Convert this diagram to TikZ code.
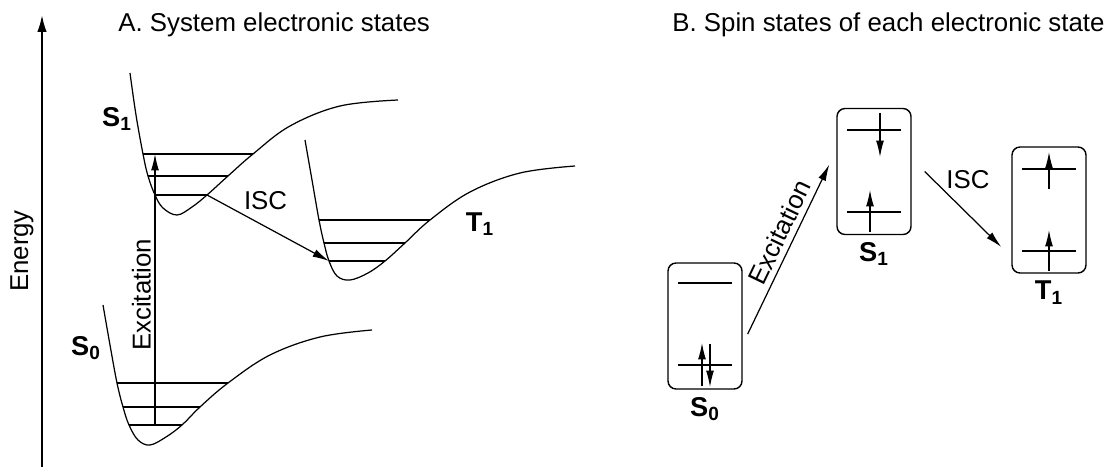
\documentclass[tikz,border=0pt]{standalone}
\usepackage{fontspec}
\setmainfont{Liberation Sans}
\usetikzlibrary{positioning,calc,arrows.meta}

\begin{document}
\begin{tikzpicture}[
    x=0.02cm, y=-0.02cm,
    font=\fontsize{14.7}{17}\selectfont,
    curve/.style={line width=0.7pt},
    level/.style={line width=0.8pt},
    arrow/.style={-{Latex[length=3.3mm,width=1.6mm]}, line width=0.7pt},
    axis/.style={-{Latex[length=3.4mm,width=1.9mm]}, line width=1.1pt},
    statelabel/.style={font=\fontsize{15.5}{18}\selectfont\bfseries, inner sep=1pt},
    statebox/.style={draw, line width=0.8pt, rounded corners=0.16cm,
      minimum width=1.48cm, minimum height=2.52cm}
  ]
    \useasboundingbox (0,0) rectangle (1113,473);

    % energy axis
    \coordinate (axisbot) at (42,467);
    \coordinate (axistop) at (42,15);
    \draw[axis] (axisbot) -- (axistop);
    \node[rotate=90] (energy) at (22,251) {Energy};

    % titles
    \node[anchor=west, inner sep=0pt] (titleA) at (118,25) {A. System electronic states};
    \node[anchor=west, inner sep=0pt] (titleB) at (672,25) {B. Spin states of each electronic state};

    % A: potential energy curves
    \draw[curve] plot[smooth, tension=0.6] coordinates {(130,73) (136,115) (143,154) (148,176)
      (155,195) (163,208) (177,215) (192,207) (207,195) (228,176) (253,154) (290,126)
      (340,106) (398,100)};
    \draw[curve] plot[smooth, tension=0.6] coordinates {(103,305) (110,345) (117,383) (123,407)
      (129,425) (138,440) (150,445) (166,437) (182,425) (200,407) (228,383) (270,355)
      (320,337) (372,330)};
    \draw[curve] plot[smooth, tension=0.6] coordinates {(305,140) (312,180) (319,220) (324,243)
      (329,261) (337,276) (350,280) (368,273) (385,261) (405,243) (430,220) (470,192)
      (520,173) (575,166)};

    % vibrational levels
    \draw[level] (143,154) -- (253,154);
    \draw[level] (148,176) -- (228,176);
    \draw[level] (155,195) -- (207,195);
    \draw[level] (117,383) -- (228,383);
    \draw[level] (123,407) -- (200,407);
    \draw[level] (129,425) -- (182,425);
    \draw[level] (319,220) -- (430,220);
    \draw[level] (324,243) -- (405,243);
    \draw[level] (329,261) -- (385,261);

    \node[statelabel] (lS1) at (117,119) {S\textsubscript{1}};
    \node[statelabel] (lS0) at (86,348) {S\textsubscript{0}};
    \node[statelabel] (lT1) at (480,224) {T\textsubscript{1}};

    % transitions
    \coordinate (s0low) at (155,425);
    \coordinate (s1top) at (155,154);
    \coordinate (s1low) at (207,195);
    \coordinate (t1low) at (329,261);
    \draw[arrow] (s0low) -- node[pos=0.48, sloped, above, inner sep=2pt] {Excitation} (s1top);
    \draw[arrow] (s1low) -- node[pos=0.48, above=0.2cm] {ISC} (t1low);

    % B: spin configurations
    \node[statebox] (bS0) at (705,326) {};
    \node[statebox] (bS1) at (874,171.5) {};
    \node[statebox] (bT1) at (1049,210) {};
    \node[statelabel, below=3pt of bS0] (sS0) {S\textsubscript{0}};
    \node[statelabel, below=3pt of bS1] (sS1) {S\textsubscript{1}};
    \node[statelabel, below=3pt of bT1] (sT1) {T\textsubscript{1}};

    \draw[level] ($(bS0)+(-27,-43)$) -- ($(bS0)+(27,-43)$);
    \draw[level] ($(bS0)+(-27,39)$) -- ($(bS0)+(27,39)$);
    \draw[level] ($(bS1)+(-27,-41.5)$) -- ($(bS1)+(27,-41.5)$);
    \draw[level] ($(bS1)+(-27,40.5)$) -- ($(bS1)+(27,40.5)$);
    \draw[level] ($(bT1)+(-27,-41)$) -- ($(bT1)+(27,-41)$);
    \draw[level] ($(bT1)+(-27,41)$) -- ($(bT1)+(27,41)$);

    \draw[arrow] (702,386) -- (702,343);
    \draw[arrow] (710,344) -- (710,387);
    \draw[arrow] (880,113) -- (880,157);
    \draw[arrow] (870,232) -- (870,190);
    \draw[arrow] (1049,189) -- (1049,152);
    \draw[arrow] (1049,271) -- (1049,230);

    \draw[arrow] ([shift={(5,8)}]bS0.east) -- node[pos=0.56, sloped, above, inner sep=3pt] {Excitation}
      ([shift={(-7,-7)}]bS1.west);
    \draw[arrow] ([shift={(13,0)}]bS1.east) -- node[midway, above=8pt, xshift=0.1cm] {ISC}
      ([shift={(-10,37)}]bT1.west);
  \end{tikzpicture}
\end{document}
